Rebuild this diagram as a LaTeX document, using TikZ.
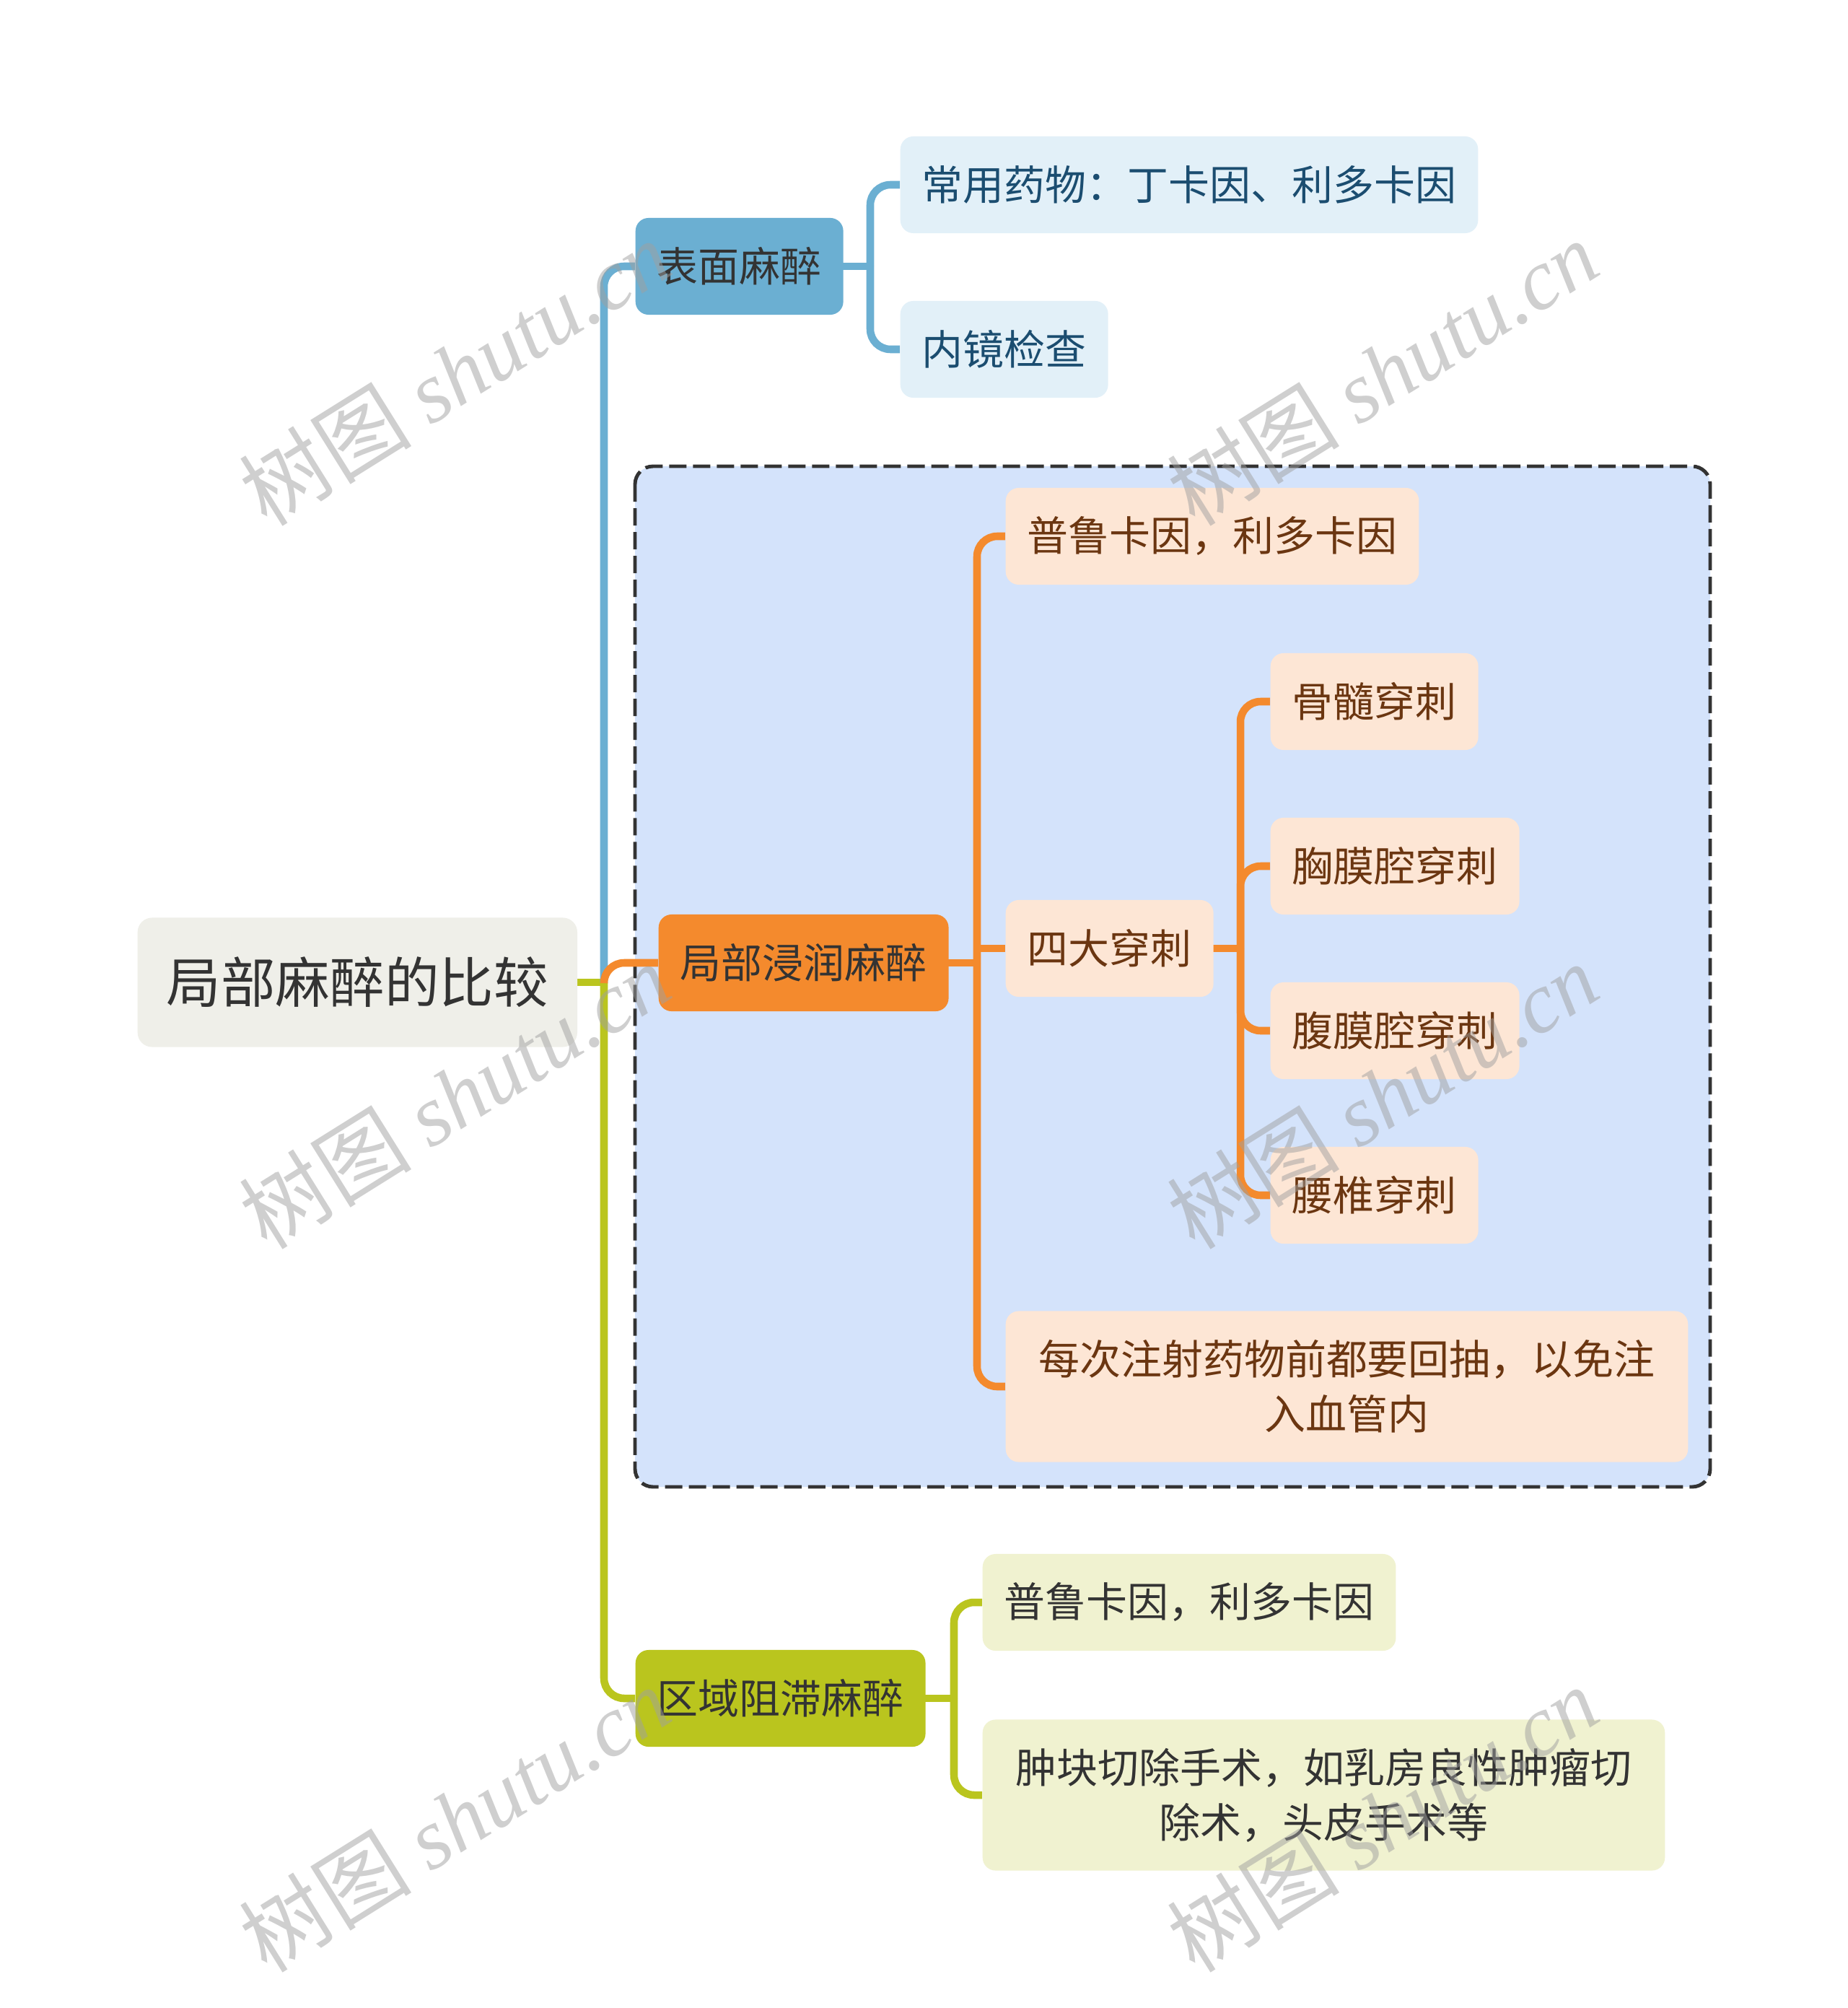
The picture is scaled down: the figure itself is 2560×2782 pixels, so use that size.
\documentclass[tikz,border=0pt]{standalone}
\usepackage{fontspec}
\setmainfont{Noto Sans CJK SC}
\newfontfamily\markfont{Liberation Serif}
\usepackage{tikz}
\usetikzlibrary{positioning,backgrounds}
\definecolor{rootfill}{HTML}{EFEFE9}
\definecolor{ink}{HTML}{333333}
\definecolor{bluemain}{HTML}{6BAFD2}
\definecolor{bluesoft}{HTML}{E2F0F8}
\definecolor{bluetext}{HTML}{1B4D70}
\definecolor{orangemain}{HTML}{F48A2D}
\definecolor{orangesoft}{HTML}{FDE6D5}
\definecolor{orangetext}{HTML}{6B3611}
\definecolor{greenmain}{HTML}{BAC51E}
\definecolor{greensoft}{HTML}{F0F2D0}
\definecolor{zonefill}{HTML}{D4E3FB}
\definecolor{zoneline}{HTML}{333333}
\definecolor{markgray}{HTML}{A0A0A0}
\tikzset{
  topic/.style={rounded corners=0.18cm,inner xsep=0.3cm,inner ysep=0pt,
    minimum height=1.34cm,anchor=west,text=ink,
    font=\fontsize{16.2pt}{21.6pt}\selectfont},
  roottopic/.style={topic,fill=rootfill,rounded corners=0.2cm,inner xsep=0.4cm,
    minimum height=1.79cm,font=\fontsize{21.5pt}{26pt}\selectfont},
  bluetopic/.style={topic,fill=bluemain},
  bluenote/.style={topic,fill=bluesoft,text=bluetext},
  orangetopic/.style={topic,fill=orangemain},
  orangenote/.style={topic,fill=orangesoft,text=orangetext},
  greentopic/.style={topic,fill=greenmain},
  greennote/.style={topic,fill=greensoft,text=ink},
  longnote/.style={text width=8.55cm,align=center,inner xsep=0.45cm,minimum height=2.09cm},
  link/.style={line width=3pt,rounded corners=0.28cm},
  bluelink/.style={link,draw=bluemain},
  orangelink/.style={link,draw=orangemain},
  greenlink/.style={link,draw=greenmain},
  zone/.style={draw=zoneline,fill=zonefill,line width=1.4pt,
    dash pattern=on 0.24cm off 0.09cm,rounded corners=0.25cm},
  watermark/.style={text=markgray,opacity=0.5,rotate=32,
    font=\fontsize{34pt}{34pt}\selectfont}
}
\begin{document}
\begin{tikzpicture}[x=0.01cm,y=-0.01cm]
  \useasboundingbox (0,0) rectangle (2560,2782);

  \node[roottopic] (root) at (190,1361) {局部麻醉的比较};
  % surface
  \node[bluetopic] (surf) at (880,369) {表面麻醉};
  \node[bluenote] (surfdrug) at (1247,256) {常用药物：丁卡因、利多卡因};
  \node[bluenote] (surfuse) at (1247,484) {内镜检查};
  % infiltration
  \node[orangetopic] (infil) at (912,1334) {局部浸润麻醉};
  \node[orangenote] (infildrug) at (1393,743) {普鲁卡因，利多卡因};
  \node[orangenote] (punct) at (1393,1314) {四大穿刺};
  \node[orangenote,longnote] (infiltip) at (1393,1921) {每次注射药物前都要回抽，以免注\\入血管内};
  \node[orangenote] (marrow) at (1760,972) {骨髓穿刺};
  \node[orangenote] (pleura) at (1760,1200) {胸膜腔穿刺};
  \node[orangenote] (perit) at (1760,1428) {腹膜腔穿刺};
  \node[orangenote] (lumbar) at (1760,1656) {腰椎穿刺};
  % block
  \node[greentopic] (block) at (880,2353) {区域阻滞麻醉};
  \node[greennote] (blockdrug) at (1361,2220) {普鲁卡因，利多卡因};
  \node[greennote,longnote] (blockuse) at (1361,2487) {肿块切除手术，如乳房良性肿瘤切\\除术，头皮手术等};

  \coordinate (rootfork) at (837,1361);
  \coordinate (surffork) at (1206,369);
  \coordinate (infilfork) at (1354,1334);
  \coordinate (punctfork) at (1719,1314);
  \coordinate (blockfork) at (1322,2353);

  \begin{scope}[on background layer]
    \fill[white] (0,0) rectangle (2560,2782);
    \path[zone] (880,646) rectangle (2370,2060);
    \draw[greenlink,line cap=rect] (root.east) -- (rootfork);
    \draw[greenlink] (rootfork) |- (block.west);
    \draw[bluelink] (rootfork) |- (surf.west);
    \draw[orangelink] (rootfork) |- (infil.west);
    \draw[bluelink,line cap=rect] (surf.east) -- (surffork);
    \foreach \c in {surfdrug,surfuse} \draw[bluelink] (surffork) |- (\c.west);
    \draw[orangelink,line cap=rect] (infil.east) -- (infilfork);
    \foreach \c in {infildrug,infiltip} \draw[orangelink] (infilfork) |- (\c.west);
    \draw[orangelink] (infilfork |- punct.west) -- (punct.west);
    \draw[orangelink,line cap=rect] (punct.east) -- (punctfork);
    \foreach \c in {marrow,pleura,perit,lumbar} \draw[orangelink] (punctfork) |- (\c.west);
    \draw[greenlink,line cap=rect] (block.east) -- (blockfork);
    \foreach \c in {blockdrug,blockuse} \draw[greenlink] (blockfork) |- (\c.west);
  \end{scope}

  \foreach \x/\y [count=\i] in {630/516,1916/516,630/1518,1916/1518,630/2520,1916/2520}
    \node[watermark] (mark\i) at (\x,\y) {树图 {\markfont\itshape shutu.cn}};
\end{tikzpicture}
\end{document}
